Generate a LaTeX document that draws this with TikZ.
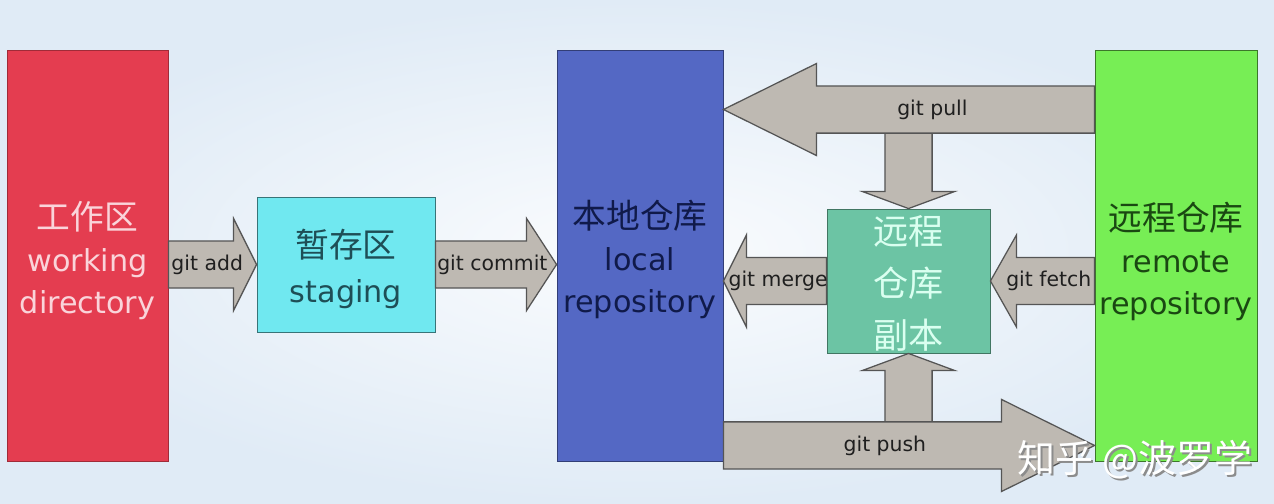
\documentclass[tikz,border=0pt]{standalone}
\usepackage{fontspec}
\setmainfont{DejaVu Sans}
\newfontfamily\cjk{Noto Sans CJK SC}
\usetikzlibrary{calc}
\definecolor{gitred}{RGB}{228,61,80}
\definecolor{gitredtext}{RGB}{250,212,218}
\definecolor{gitcyan}{RGB}{112,232,240}
\definecolor{gitcyantext}{RGB}{30,78,86}
\definecolor{gitblue}{RGB}{84,104,196}
\definecolor{gitbluetext}{RGB}{16,26,74}
\definecolor{gitteal}{RGB}{108,196,164}
\definecolor{gittealtext}{RGB}{218,255,240}
\definecolor{gitgreen}{RGB}{119,238,85}
\definecolor{gitgreentext}{RGB}{26,72,18}
\definecolor{gitgray}{RGB}{190,185,178}
\definecolor{gitedge}{RGB}{85,85,85}
\definecolor{gitbg}{RGB}{224,235,246}

\newcommand{\shaftw}{5.9mm}
\newcommand{\headw}{11.5mm}
% block arrow: tail, tip, head length
\newcommand{\blockarrow}[3]{%
  \coordinate (ba-base) at ($(#2)!#3!(#1)$);
  \draw[gitarrow] ($(#1)!\shaftw!90:(#2)$) -- ($(ba-base)!\shaftw!90:(#2)$)
    -- ($(ba-base)!\headw!90:(#2)$) -- (#2) -- ($(ba-base)!\headw!-90:(#2)$)
    -- ($(ba-base)!\shaftw!-90:(#2)$) -- ($(#1)!\shaftw!-90:(#2)$) -- cycle;
}

\begin{document}
\begin{tikzpicture}[x=0.025cm, y=-0.025cm,
    repobox/.style={draw, line width=0.6pt, inner sep=0pt},
    repotext/.style={align=center, inner sep=0pt, font=\fontsize{21.5}{30}\selectfont},
    gitarrow/.style={fill=gitgray, draw=gitedge, line width=0.9pt, line join=miter},
    gitlabel/.style={text=black!88, font=\fontsize{14.5}{16}\selectfont, inner sep=0pt}]
  \useasboundingbox (0,0) rectangle (1274,504);
  \shade[inner color=white!85!gitbg, outer color=gitbg] (0,0) rectangle (1274,504);

  % the five areas
  \node[repobox, fill=gitred, draw=gitred!70!black,
    minimum width=4.025cm, minimum height=10.275cm] (work) at (87.5,255.5) {};
  \node[repobox, fill=gitcyan, draw=gitcyan!50!black,
    minimum width=4.45cm, minimum height=3.375cm] (stage) at (346,264.5) {};
  \node[repobox, fill=gitblue, draw=gitblue!60!black,
    minimum width=4.15cm, minimum height=10.275cm] (local) at (640,255.5) {};
  \node[repobox, fill=gitteal, draw=gitteal!60!black,
    minimum width=4.075cm, minimum height=3.6cm] (copy) at (908.5,281) {};
  \node[repobox, fill=gitgreen, draw=gitgreen!50!black,
    minimum width=4.05cm, minimum height=10.275cm] (remote) at (1176,255.5) {};

  \node[repotext, text=gitredtext] (worktext) at ($(work)+(0,5)$)
    {{\cjk\fontsize{24}{30}\selectfont 工作区}\\working\\directory};
  \node[repotext, text=gitcyantext, font=\fontsize{21.5}{32}\selectfont]
    (stagetext) at ($(stage)+(0,4)$)
    {{\cjk\fontsize{24}{32}\selectfont 暂存区}\\staging};
  \node[repotext, text=gitbluetext] (localtext) at ($(local)+(0,4)$)
    {{\cjk\fontsize{24}{30}\selectfont 本地仓库}\\local\\repository};
  \node[repotext, text=gittealtext, font=\cjk\fontsize{25}{37}\selectfont]
    (copytext) at ($(copy)+(0,2)$) {远程\\仓库\\副本};
  \node[repotext, text=gitgreentext] (remotetext) at ($(remote)+(0,6)$)
    {{\cjk\fontsize{24}{30}\selectfont 远程仓库}\\remote\\repository};

  % arrow ends
  \coordinate (pullS) at ($(remote.north west)+(0,60)$);
  \coordinate (pullE) at (local.east |- pullS);
  \coordinate (pushS) at ($(local.south east)+(0,-16)$);
  \coordinate (pushE) at (remote.west |- pushS);
  \coordinate (downS) at (copy.north |- pullS);
  \coordinate (upS) at (copy.south |- pushS);
  \coordinate (addS) at (work.east |- stage.west);
  \coordinate (commitE) at (local.west |- stage.east);
  \coordinate (mergeE) at (local.east |- copy.west);
  \coordinate (fetchS) at (remote.west |- copy.east);

  \blockarrow{downS}{copy.north}{4.25mm}
  \blockarrow{upS}{copy.south}{4.25mm}
  \blockarrow{addS}{stage.west}{5.75mm}
  \blockarrow{stage.east}{commitE}{7.5mm}
  \blockarrow{pullS}{pullE}{23.25mm}
  \blockarrow{copy.west}{mergeE}{5.75mm}
  \blockarrow{fetchS}{copy.east}{6.5mm}
  \blockarrow{pushS}{pushE}{23.25mm}

  \node[gitlabel] (addlbl) at ($(addS)!0.44!(stage.west)$) {git add};
  \node[gitlabel] (commitlbl) at ($(stage.east)!0.47!(commitE)$) {git commit};
  \node[gitlabel] (pulllbl) at ($(pullS)!0.437!(pullE)$) {git pull};
  \node[gitlabel] (mergelbl) at ($(copy.west)!0.47!(mergeE)$) {git merge};
  \node[gitlabel] (fetchlbl) at ($(fetchS)!0.44!(copy.east)$) {git fetch};
  \node[gitlabel] (pushlbl) at ($(pushS)!0.435!(pushE)$) {git push};

  % watermark
  \node[font=\cjk\fontsize{27}{27}\selectfont, text=black!45] (markshadow) at (1137,462) {知乎 @波罗学};
  \node[font=\cjk\fontsize{27}{27}\selectfont, text=white] (mark) at (1135,460) {知乎 @波罗学};
\end{tikzpicture}
\end{document}
